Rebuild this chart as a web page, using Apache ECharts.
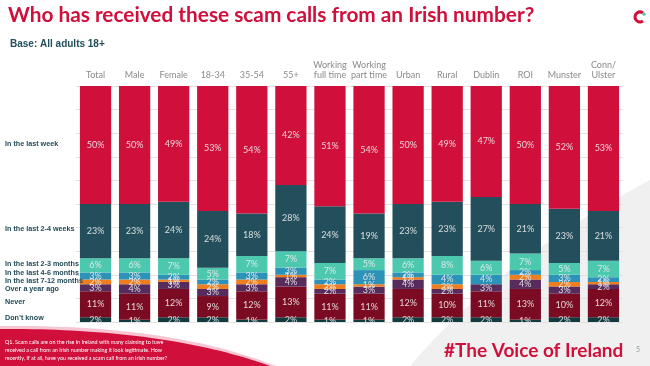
<!DOCTYPE html>
<html>
<head>
<meta charset="utf-8">
<script src="https://cdn.jsdelivr.net/npm/echarts@6/dist/echarts.min.js"></script>
<style>
html,body{margin:0;padding:0;background:#fff;}
#c{width:650px;height:366px;}
</style>
</head>
<body>
<div id="c"></div>
<script>
var categories = ['Total','Male','Female','18-34','35-54','55+','Working\nfull time','Working\npart time','Urban','Rural','Dublin','ROI','Munster','Conn/\nUlster'];
var seriesNames = ['Don\u2019t know','Never','Over a year ago','In the last 7-12 months','In the last 4-6 months','In the last 2-3 months','In the last 2-4 weeks','In the last week'];
var dontKnow   = [2,1,2,2,1,2,1,1,2,2,2,1,2,2];
var never      = [11,11,12,9,12,13,11,11,12,10,11,13,10,12];
var overYear   = [3,4,3,3,3,4,2,3,4,2,3,4,3,2];
var m7to12     = [2,2,1,2,2,1,2,1,1,2,0,2,2,1];
var m4to6      = [3,3,2,2,3,3,2,6,2,4,4,2,3,2];
var m2to3      = [6,6,7,5,7,7,7,5,6,8,6,7,5,7];
var w2to4      = [23,23,24,24,18,28,24,19,23,23,27,21,23,21];
var lastWeek   = [50,50,49,53,54,42,51,54,50,49,47,50,52,53];
var seriesData = [dontKnow, never, overYear, m7to12, m4to6, m2to3, w2to4, lastWeek];
var colors = ['#123B40','#7A0B22','#572B5C','#EE7D1E','#2D92B8','#4CC8AE','#234F5D','#D00F3B'];

var chart = echarts.init(document.getElementById('c'), null, {renderer:'canvas'});

var series = seriesData.map(function(d, i){
  return {
    name: seriesNames[i],
    type: 'bar',
    stack: 'all',
    data: d,
    barCategoryGap: '20%',
    itemStyle: {color: colors[i]},
    label: {
      show: true,
      position: 'inside',
      formatter: function(p){ return p.value > 0 ? p.value + '%' : ''; },
      color: 'rgba(235,235,235,0.9)',
      fontSize: 9,
      fontFamily: 'Lato, sans-serif'
    }
  };
});

// decorative curved shapes (quadratic bezier sampled into polygons)
function quadShape(p0, c, p1, extra){
  var pts = [];
  for (var i = 0; i <= 40; i++){
    var t = i/40, u = 1-t;
    pts.push([u*u*p0[0] + 2*u*t*c[0] + t*t*p1[0], u*u*p0[1] + 2*u*t*c[1] + t*t*p1[1]]);
  }
  return pts.concat(extra);
}

var legendTexts = [
  {t:'In the last week', y:146},
  {t:'In the last 2-4 weeks', y:231},
  {t:'In the last 2-3 months', y:266},
  {t:'In the last 4-6 months', y:275},
  {t:'In the last 7-12 months', y:283},
  {t:'Over a year ago', y:291},
  {t:'Never', y:304},
  {t:'Don\u2019t know', y:320}
];
var graphics = [
  {type:'polygon', z:-10, shape:{points: quadShape([410,366],[500,260],[650,180],[[650,366]])}, style:{fill:'#f0f0f0'}},
  {type:'polygon', z:1, shape:{points: quadShape([0,326],[170,324],[276,366],[[0,366]])}, style:{fill:'#F6C7D2'}},
  {type:'polygon', z:2, shape:{points: quadShape([0,329],[165,328],[270,366],[[0,366]])}, style:{fill:'#D00F3B'}},
  {type:'text', z:3, left:5, top:338, style:{text:'Q1. Scam calls are on the rise in Ireland with many claiming to have\nreceived a call from an Irish number making it look legitimate. How\nrecently, if at all, have you received a scam call from an Irish number?', fill:'#fff', font:'5.4px Lato, sans-serif', lineHeight:8}},
  {type:'text', left:8, top:5, style:{text:'Who has received these scam calls from an Irish number?', fill:'#D00F3B', font:'bold 20.8px Lato, sans-serif'}},
  {type:'text', left:10, top:39, style:{text:'Base: All adults 18+', fill:'#234F5D', font:'bold 10px "Liberation Sans Narrow", sans-serif'}},
  {type:'text', left:444, top:341, style:{text:'#The Voice of Ireland', fill:'#D00F3B', font:'bold 19px Lato, sans-serif'}},
  {type:'text', left:636, top:346, style:{text:'5', fill:'#999', font:'7px Lato, sans-serif'}},
  {type:'arc', shape:{cx:640, cy:17, r:5, startAngle:Math.PI*0.3, endAngle:Math.PI*1.7}, style:{stroke:'#D00F3B', lineWidth:3, fill:null}},
  {type:'arc', shape:{cx:640, cy:17, r:5, startAngle:Math.PI*1.7, endAngle:Math.PI*1.9}, style:{stroke:'#4CC8AE', lineWidth:3, fill:null}}
];
legendTexts.forEach(function(l){
  graphics.push({type:'text', z:5, left:5, top:l.y-5, style:{text:l.t, fill:'#1F4A57', font:'bold 7.2px "Liberation Sans Narrow", sans-serif'}});
});

chart.setOption({
  animation:false,
  color: colors,
  grid:{left:76, right:27, top:86, bottom:44},
  xAxis:{
    type:'category',
    position:'top',
    data: categories,
    axisLine:{show:false},
    axisTick:{show:false},
    axisLabel:{color:'#8a8a8a', fontSize:9, fontFamily:'Lato, sans-serif', margin:6, lineHeight:10, interval:0}
  },
  yAxis:{
    type:'value',
    min:0, max:100, interval:10,
    axisLabel:{show:false},
    axisLine:{show:false},
    axisTick:{show:false},
    splitLine:{lineStyle:{color:'#e2e2e2', width:1}}
  },
  series: series,
  graphic: graphics
});
</script>
</body>
</html>
